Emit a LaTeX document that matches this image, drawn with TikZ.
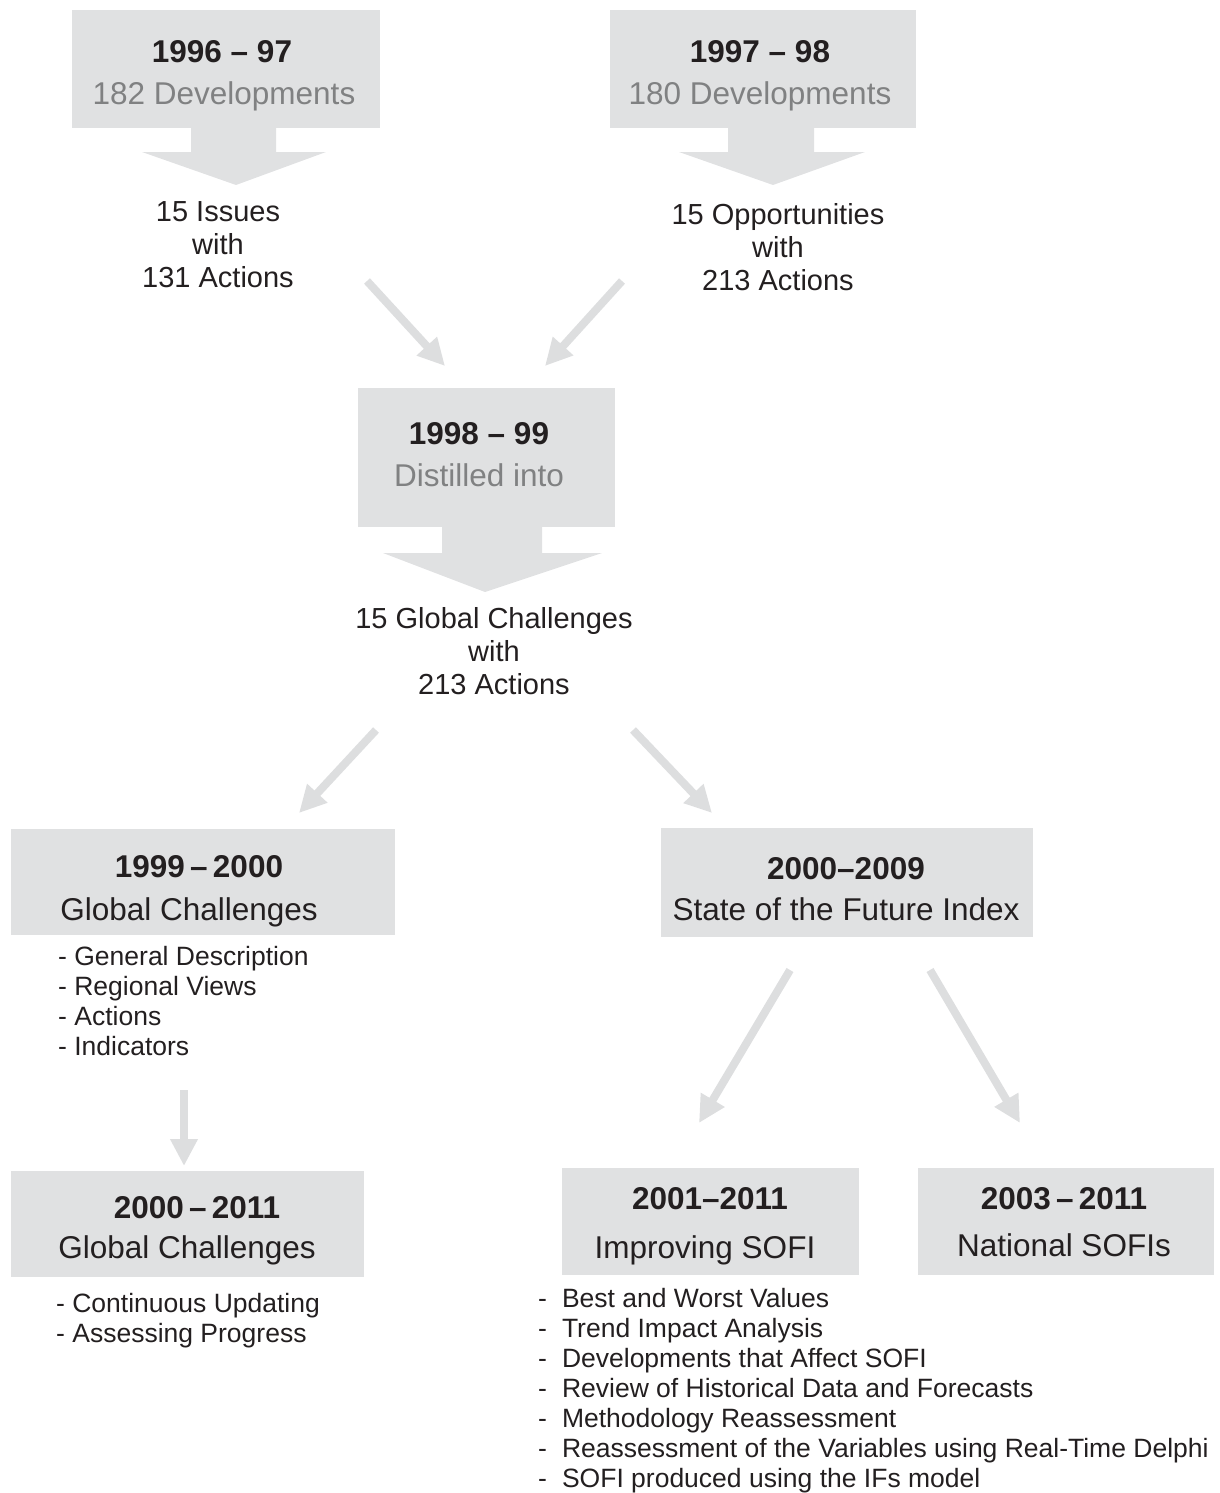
\documentclass[tikz,border=0pt]{standalone}
\usepackage{fontspec}
\setmainfont{Liberation Sans}
\usetikzlibrary{arrows.meta}
\definecolor{boxgray}{RGB}{224,225,226}
\definecolor{arrgray}{RGB}{221,222,223}
\definecolor{txtgray}{RGB}{128,129,130}
\definecolor{txtblack}{RGB}{35,31,32}
\begin{document}
\begin{tikzpicture}[x=1pt,y=-1pt,
   box/.style={fill=boxgray,inner sep=0pt},
   title/.style={anchor=base,align=center,inner sep=0pt,text=txtblack,font=\fontsize{31.5}{33}\selectfont},
   note/.style={title,font=\fontsize{29}{33}\selectfont},
   item/.style={anchor=base west,align=left,inner sep=0pt,text=txtblack,font=\fontsize{26.5}{30}\selectfont},
   conn/.style={draw=arrgray,line width=8pt,-{Triangle[width=26pt,length=27pt]}}]
\useasboundingbox (0,0) rectangle (1220,1493);
\node[box,minimum width=308,minimum height=118] (dev9697) at (226,69) {};
\node[box,minimum width=306,minimum height=118] (dev9798) at (763,69) {};
\node[box,minimum width=257,minimum height=139] (distil) at (486.5,457.5) {};
\node[box,minimum width=384,minimum height=106] (gc9900) at (203,882) {};
\node[box,minimum width=372,minimum height=109] (sofi) at (847,882.5) {};
\node[box,minimum width=353,minimum height=106] (gc0011) at (187.5,1224) {};
\node[box,minimum width=297,minimum height=107] (improve) at (710.5,1221.5) {};
\node[box,minimum width=296,minimum height=107] (national) at (1066,1221.5) {};
\fill[boxgray] (191,127) -- (276,127) -- (276,152) -- (326,152) -- (236,185) -- (142,152) -- (191,152) -- cycle;
\fill[boxgray] (728,127) -- (814,127) -- (814,152) -- (865,152) -- (773,185) -- (679,152) -- (728,152) -- cycle;
\fill[boxgray] (442,526) -- (542,526) -- (542,553) -- (602,553) -- (485,592) -- (383,553) -- (442,553) -- cycle;
\node[title] (dev9697 text) at (224,105) {\textbf{1996 – 97}\hspace*{4pt}\\[9pt]{\color{txtgray}182 Developments}};
\node[title] (dev9798 text) at (760,105) {\textbf{1997 – 98}\\[9pt]{\color{txtgray}180 Developments}};
\node[title] (distil text) at (479,486) {\textbf{1998 – 99}\\[9pt]{\color{txtgray}Distilled into}};
\node[title] (gc9900 text) at (189,920) {\textbf{1999\,–\,2000}\hspace*{-20pt}\\[10pt]Global Challenges};
\node[title] (sofi text) at (846,920) {\textbf{2000–2009}\\[8pt]State of the Future Index};
\node[title] (gc0011 text) at (187,1258) {\textbf{2000\,–\,2011}\hspace*{-20pt}\\[7pt]Global Challenges};
\node[title] (improve text) at (705,1258) {\textbf{2001–2011}\hspace*{-10pt}\\[16pt]Improving SOFI};
\node[title] (national text) at (1064,1256) {\textbf{2003\,–\,2011}\\[14pt]National SOFIs};
\node[note] (issues) at (218,287) {15 Issues\\with\\131 Actions};
\node[note] (opport) at (778,290) {15 Opportunities\\with\\213 Actions};
\node[note] (challenges) at (494,694) {15 Global Challenges\\with\\213 Actions};
\node[item] (gc9900 list) at (58,1055) {- General Description\\- Regional Views\\- Actions\\- Indicators};
\node[item] (gc0011 list) at (56,1342) {- Continuous Updating\\- Assessing Progress};
\node[item] (improve list) at (538,1487) {-\hspace{15pt}Best and Worst Values\\
   -\hspace{15pt}Trend Impact Analysis\\
   -\hspace{15pt}Developments that Affect SOFI\\
   -\hspace{15pt}Review of Historical Data and Forecasts\\
   -\hspace{15pt}Methodology Reassessment\\
   -\hspace{15pt}Reassessment of the Variables using Real-Time Delphi\\
   -\hspace{15pt}SOFI produced using the IFs model};
\coordinate (issues out) at (367,281);
\coordinate (opport out) at (622,281);
\coordinate (distil in1) at (445,366);
\coordinate (distil in2) at (545,366);
\coordinate (challenges out1) at (376,730);
\coordinate (challenges out2) at (633,730);
\coordinate (gc9900 in) at (299,813);
\coordinate (sofi in) at (712,813);
\coordinate (gc9900 out) at (184,1090);
\coordinate (gc0011 in) at (184,1166);
\coordinate (sofi out1) at (790,970);
\coordinate (sofi out2) at (930,970);
\coordinate (improve in) at (699,1123);
\coordinate (national in) at (1020,1123);
\draw[conn] (issues out) -- (distil in1);
\draw[conn] (opport out) -- (distil in2);
\draw[conn] (challenges out1) -- (gc9900 in);
\draw[conn] (challenges out2) -- (sofi in);
\draw[conn] (gc9900 out) -- (gc0011 in);
\draw[conn] (sofi out1) -- (improve in);
\draw[conn] (sofi out2) -- (national in);
\end{tikzpicture}
\end{document}
